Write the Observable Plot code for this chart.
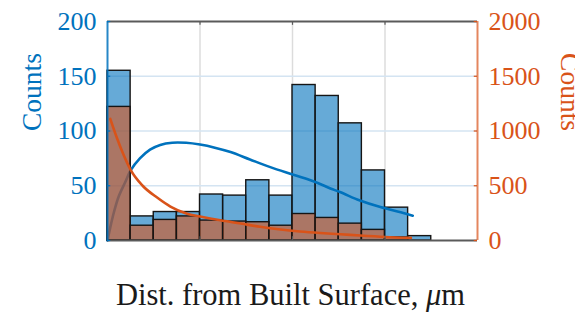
<!DOCTYPE html>
<html>
<head>
<meta charset="utf-8">
<script src="https://cdn.jsdelivr.net/npm/d3@7"></script>
<script src="https://cdn.jsdelivr.net/npm/@observablehq/plot@0.6"></script>
<style>
  html, body { margin: 0; padding: 0; background: #fff; overflow: hidden; }
  #chart svg { display: block; overflow: visible; }
  #chart svg, #chart svg text, #chart svg g { font-family: "Liberation Serif", "Times New Roman", serif !important; }
</style>
</head>
<body>
<div id="chart"></div>
<script>
// ---- data ----
const binLefts  = [0, 25, 50, 75, 100, 125, 150, 175, 200, 225, 250, 275, 300, 325];
const binRights = [25, 50, 75, 100, 125, 150, 175, 200, 225, 250, 275, 300, 325, 350];
const leftCounts  = [155, 22, 26, 26, 42, 41, 55, 41, 142, 132, 107, 64, 30, 4];
const rightCounts = [1220, 135, 188, 220, 182, 173, 167, 135, 242, 206, 154, 97, 28, 0];

const blueFitX = [0, 3, 7, 12, 19, 25, 35, 46, 57, 70, 85, 100, 116, 133, 154, 176, 201, 226, 241, 252, 273, 295, 317, 330];
const blueFitY = [0, 12, 26, 40, 53, 64, 75, 83, 87.3, 89.3, 89.2, 87.6, 84.8, 80.8, 74, 67, 60, 53, 47.5, 44, 36.5, 30.5, 25.8, 22.7];

const orangeFitX = [3, 10, 17, 25, 38, 54, 68, 86, 100, 122, 144, 165, 187, 208, 230, 252, 273, 300, 328];
const orangeFitY = [1110, 940, 790, 645, 500, 390, 310, 245, 220, 185, 155, 125, 100, 82, 68, 57, 45, 32, 24];

const leftTicks = [0, 50, 100, 150, 200];
const leftTickLabels = ["0", "50", "100", "150", "200"];
const rightTickLabels = ["0", "500", "1000", "1500", "2000"];
const xGridTicks = [100, 200, 300];
const yGridTicks = [50, 100, 150];
const xLabel = "Dist. from Built Surface, μm";
const yLabel = "Counts";

// ---- tables built from the arrays ----
const rightScale = 10; // right axis is 10x the left axis
const leftBars = binLefts.map((x1, i) => ({x1, x2: binRights[i], c: leftCounts[i]}));
const rightBars = binLefts.map((x1, i) => ({x1, x2: binRights[i], c: rightCounts[i]})).filter(d => d.c > 0);
const blueFit = blueFitX.map((x, i) => ({x, y: blueFitY[i]}));
const orangeFit = orangeFitX.map((x, i) => ({x, y: orangeFitY[i]}));

const BLUE = "#0072BD", ORANGE = "#D95319";
const SERIF = "Liberation Serif";

const chart = Plot.plot({
  width: 575,
  height: 323,
  marginLeft: 107,
  marginRight: 98,
  marginTop: 21,
  marginBottom: 83,
  style: {fontFamily: SERIF, background: "#fff"},
  x: {domain: [0, 400], axis: null},
  y: {domain: [0, 200]},
  marks: [
    Plot.ruleX(xGridTicks, {stroke: "#dcdcdc", strokeWidth: 1.5}),
    Plot.ruleY(yGridTicks, {stroke: "#d4e4f2", strokeWidth: 1.5}),
    // left histogram
    Plot.rectY(leftBars, {x1: "x1", x2: "x2", y: "c", fill: BLUE, fillOpacity: 0.6, stroke: "#151515", strokeWidth: 1.4}),
    Plot.line(blueFit, {x: "x", y: "y", stroke: BLUE, strokeWidth: 2.6, curve: "catmull-rom"}),
    // right histogram (right axis = left * 10)
    Plot.rectY(rightBars, {x1: "x1", x2: "x2", y: d => d.c / rightScale, fill: ORANGE, fillOpacity: 0.6, stroke: "#151515", strokeWidth: 1.4}),
    Plot.line(orangeFit, {x: "x", y: d => d.y / rightScale, stroke: ORANGE, strokeWidth: 2.6, curve: "monotone-x"}),
    // box
    Plot.ruleY([0], {stroke: "#5a5a5a", strokeWidth: 1.8}),
    Plot.ruleY([200], {stroke: "#5a5a5a", strokeWidth: 1.8}),
    Plot.ruleX(xGridTicks, {y1: 0, y2: 3.5, stroke: "#5a5a5a", strokeWidth: 1.2}),
    Plot.ruleX(xGridTicks, {y1: 196.5, y2: 200, stroke: "#5a5a5a", strokeWidth: 1.2}),
    Plot.ruleX([0], {stroke: BLUE, strokeWidth: 2, strokeOpacity: 0.85}),
    Plot.ruleX([400], {stroke: ORANGE, strokeWidth: 2, strokeOpacity: 0.7}),
    Plot.ruleY(leftTicks, {x1: 0, x2: 3.5, stroke: BLUE, strokeWidth: 1.2}),
    Plot.ruleY(leftTicks, {x1: 396.5, x2: 400, stroke: ORANGE, strokeWidth: 1.2}),
    // axes labels
    Plot.axisY({anchor: "left", ticks: leftTicks, tickFormat: (d, i) => leftTickLabels[i], tickSize: 0, tickPadding: 11, fontSize: 26, fontFamily: SERIF, color: BLUE, label: null}),
    Plot.axisY({anchor: "right", ticks: leftTicks, tickFormat: (d, i) => rightTickLabels[i], tickSize: 0, tickPadding: 11, fontSize: 26, fontFamily: SERIF, color: ORANGE, label: null}),
    Plot.text([yLabel], {text: d => d, frameAnchor: "left", dx: -75, rotate: -90, fontSize: 27.5, fontFamily: SERIF, fill: BLUE}),
    Plot.text([yLabel], {text: d => d, frameAnchor: "right", dx: 92, rotate: 90, fontSize: 27.5, fontFamily: SERIF, fill: ORANGE}),
    Plot.text([xLabel], {text: d => d, frameAnchor: "bottom", dy: 64, dx: -2, fontSize: 30.5, fontFamily: SERIF, fill: "#1a1a1a"})
  ]
});

document.getElementById("chart").appendChild(chart);

// italic mu, as in the TeX-rendered label
chart.querySelectorAll("text").forEach(t => {
  if (t.textContent === xLabel) {
    const i = xLabel.indexOf("μ");
    t.textContent = xLabel.slice(0, i);
    const ts = document.createElementNS("http://www.w3.org/2000/svg", "tspan");
    ts.setAttribute("font-style", "italic");
    ts.textContent = "μ";
    t.appendChild(ts);
    t.appendChild(document.createTextNode(xLabel.slice(i + 1)));
  }
});
</script>
</body>
</html>
